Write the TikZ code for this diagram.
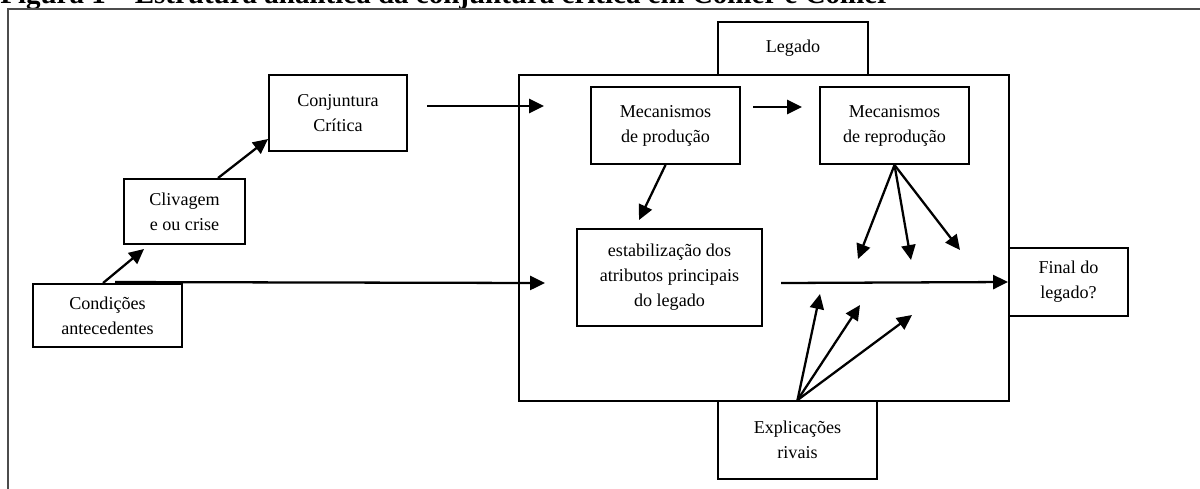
\documentclass[tikz,border=0pt]{standalone}
\usepackage{fontspec}
\setmainfont{Liberation Serif}
\usetikzlibrary{arrows.meta,calc}
\begin{document}
\begin{tikzpicture}[x=0.02cm,y=-0.02cm,
  bx/.style={draw,line width=1.1pt,align=center,inner sep=0pt,font=\fontsize{10.3}{14.2}\selectfont},
  arr/.style={line width=1.3pt,-{Triangle[length=8.5pt,width=8pt]}},
  frameline/.style={line width=0.9pt,black!70}]
\useasboundingbox (0,0) rectangle (1200,488);
\clip (0,0) rectangle (1200,488);
\node[anchor=base west,font=\bfseries\fontsize{16.5}{18}\selectfont,inner sep=0pt] (title) at (0,3) {Figura 1 – Estrutura analítica da conjuntura crítica em Collier e Collier};
\draw[frameline] (8,9) rectangle (1220,500);
% boxes
\node[bx,minimum width=9.8cm,minimum height=6.52cm] (frame) at (764,238) {};
\node[bx,minimum width=3.0cm,minimum height=1.06cm] (legado) at (793,48.5) {Legado};
\node[bx,minimum width=2.98cm,minimum height=1.26cm] (cond) at (107.5,315.5) {Condições\\antecedentes};
\node[bx,minimum width=2.42cm,minimum height=1.30cm] (cliv) at (184.5,211.5) {Clivagem\\e ou crise};
\node[bx,minimum width=2.76cm,minimum height=1.52cm] (conj) at (338,113) {Conjuntura\\Crítica};
\node[bx,minimum width=2.98cm,minimum height=1.54cm] (prod) at (665.5,125.5) {Mecanismos\\de produção};
\node[bx,minimum width=2.98cm,minimum height=1.54cm] (repr) at (894.5,125.5) {Mecanismos\\de reprodução};
\node[bx,minimum width=3.7cm,minimum height=1.94cm] (estab) at (669.5,277.5) {estabilização dos\\atributos principais\\do legado};
\node[bx,minimum width=2.38cm,minimum height=1.36cm] (final) at (1068.5,282) {Final do\\legado?};
\node[bx,minimum width=3.18cm,minimum height=1.56cm] (expl) at (797.5,440) {Explicações\\rivais};
% free ends
\coordinate (c1) at (144,249);
\coordinate (a1) at (427,106);
\coordinate (a2) at (544,106);
\coordinate (a3) at (545,283);
\coordinate (b1) at (753,107);
\coordinate (b2) at (802,107);
\coordinate (d1) at (639,220);
\coordinate (r1) at (858,259);
\coordinate (r2) at (911,260);
\coordinate (r3) at (960,250);
\coordinate (h1) at (781,283);
\coordinate (e1) at (820,294);
\coordinate (e2) at (860,305);
\coordinate (e3) at (912,315);
% connectors
\draw[arr] ($(cond.north)+(-4.5,0)$) -- (c1);
\draw[arr] ($(cliv.north)+(33.5,0)$) -- ($(conj.west)+(0,26)$);
\draw[arr] (a1) -- (a2);
\draw[arr] ($(cond.north)+(7.5,-1)$) -- (a3);
\draw[arr] (b1) -- (b2);
\draw[arr] (prod.south) -- (d1);
\draw[arr] (repr.south) -- (r1);
\draw[arr] (repr.south) -- (r2);
\draw[arr] (repr.south) -- (r3);
\draw[arr] (h1) -- (final.west);
\draw[arr] (expl.north) -- (e1);
\draw[arr] (expl.north) -- (e2);
\draw[arr] (expl.north) -- (e3);
\end{tikzpicture}
\end{document}
